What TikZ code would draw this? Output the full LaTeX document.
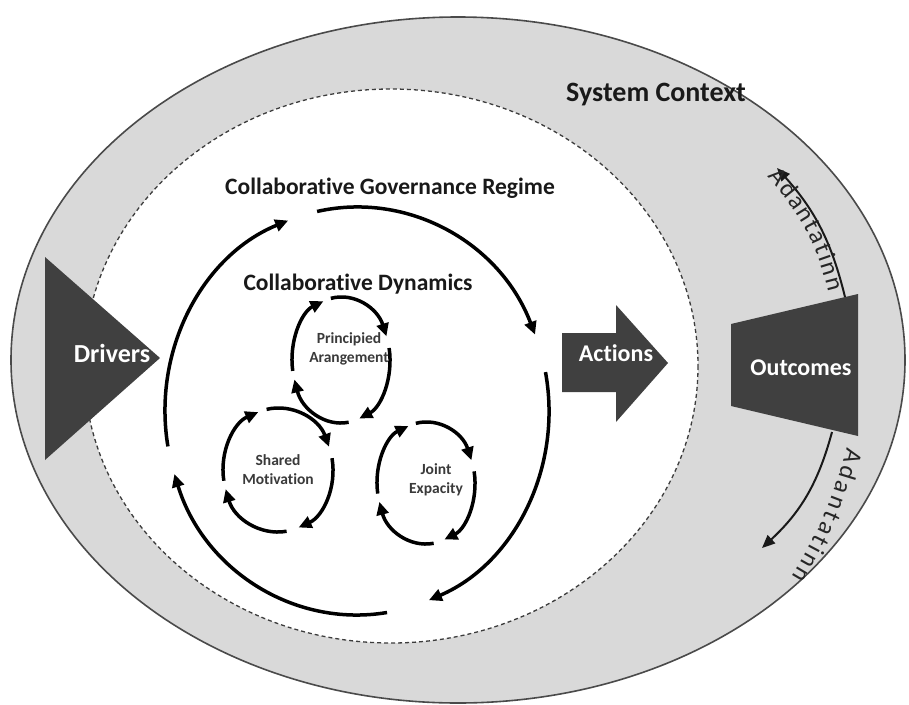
\documentclass[tikz,border=0pt]{standalone}
\usepackage{fontspec}
\setmainfont{Carlito}[Ligatures={NoCommon}]
\usetikzlibrary{arrows.meta,decorations.text}
\definecolor{ctxgray}{HTML}{D9D9D9}
\definecolor{darkfill}{HTML}{404040}
\definecolor{edgegray}{HTML}{4A4A4A}
\definecolor{dashgray}{HTML}{3C3C3C}
\definecolor{smalltxt}{HTML}{3A3A3A}
\newcommand\cyclearcs[4]{%
  \foreach \sa/\ea in {170/249,258/338,349/428,441/522}{%
    \draw[cycarrow] ({#1+#3*cos(\sa)},{#2+#4*sin(\sa)}) arc[start angle=\sa,end angle=\ea,x radius=#3,y radius=#4];
  }%
}
\begin{document}
\begin{tikzpicture}[x=1pt,y=-1pt,
  cycarrow/.style={line width=3.5pt,-{Triangle[length=13pt,width=12pt]}},
  shapefill/.style={fill=darkfill,draw=none},
  whitelabel/.style={text=white,font=\bfseries\fontsize{24}{28}\selectfont,inner sep=0pt},
  title/.style={text=black!90,font=\bfseries\fontsize{23.5}{28}\selectfont,inner sep=0pt},
  smalllabel/.style={text=smalltxt,font=\bfseries\fontsize{15.5}{19}\selectfont,align=center,inner sep=0pt},
  adaptarrow/.style={line width=2pt,draw=black!90,-{Triangle[length=13pt,width=11pt]}}
]
\useasboundingbox (0,0) rectangle (909,704);
\fill[white] (0,0) rectangle (909,704);
% system context
\draw[fill=ctxgray,draw=edgegray,line width=1.6pt] (458,360) ellipse[x radius=447,y radius=343];
% regime
\draw[fill=white,draw=dashgray,line width=1.3pt,dash pattern=on 4pt off 3pt] (391,366) ellipse[x radius=307,y radius=277];
% drivers
\fill[shapefill] (45,257) -- (160,358) -- (45,460) -- cycle;
\node[whitelabel,anchor=base,font=\bfseries\fontsize{26}{30}\selectfont] (drivers) at (112,362) {Drivers};
% actions
\fill[shapefill] (562,333) -- (616,333) -- (616,305) -- (668,363) -- (616,422) -- (616,392) -- (562,392) -- cycle;
\node[whitelabel,anchor=base] (actions) at (616,361) {Actions};
% outcomes
\fill[shapefill] (731,324) -- (858,294) -- (858,436) -- (731,406) -- cycle;
\node[whitelabel,anchor=base] (outcomes) at (801,375) {Outcomes};
% titles
\node[title,anchor=base,font=\bfseries\fontsize{28}{30}\selectfont] (sys) at (656,101) {System Context};
\node[title,anchor=base] (cgr) at (390,194) {Collaborative Governance Regime};
\node[title,anchor=base] (cd) at (358,290) {Collaborative Dynamics};
% cycles
\cyclearcs{357}{411}{192}{204}
\cyclearcs{341}{360}{49}{63}
\cyclearcs{278}{470}{55}{62}
\cyclearcs{426}{483}{49}{61}
\node[smalllabel] (pa) at (349,349) {Principied\\Arangement};
\node[smalllabel] (sm) at (278,470) {Shared\\Motivation};
\node[smalllabel] (je) at (436,480) {Joint\\Expacity};
% adaptation
\coordinate (upA) at (777,168);
\coordinate (upB) at (845,297);
\coordinate (loC) at (832,432);
\coordinate (loD) at (762,548);
\coordinate (loT1) at (845,447);
\coordinate (loT2) at (790,576);
\draw[adaptarrow] (upB) to[bend right=14] (upA);
\draw[adaptarrow] (loC) to[bend left=16] (loD);
\path[decorate,decoration={text along path,text color=black!85,raise=-13pt,text align=fit to path,
  text={|\fontsize{25}{25}\selectfont|Adantatinn}}] (upA) to[bend left=14] ([shift={(-4,-8)}]upB);
\path[decorate,decoration={text along path,text color=black!85,raise=2pt,text align=fit to path,
  text={|\fontsize{25}{25}\selectfont|Adantatinn}}] (loT1) to[bend left=8] (loT2);
\end{tikzpicture}
\end{document}
